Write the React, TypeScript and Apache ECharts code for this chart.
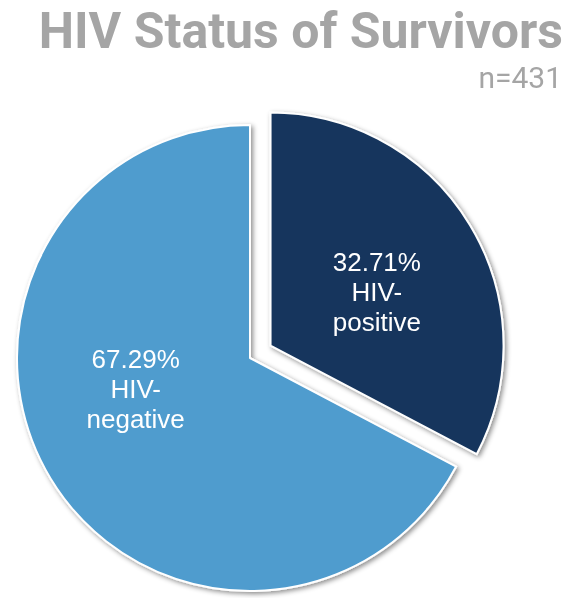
import { useEffect, useRef } from 'react';
import * as echarts from 'echarts';

const categories = ['HIV-positive', 'HIV-negative'];
const counts = [141, 290];
const colors = ['#17365D', '#4F9CCE'];
const titleText = 'HIV Status of Survivors';
const subtitleText = 'n=431';

export default function App() {
  const ref = useRef<HTMLDivElement>(null);
  useEffect(() => {
    const chart = echarts.init(ref.current!, null, { renderer: 'svg' });
    chart.setOption({
      animation: false,
      title: [
        {
          text: titleText,
          right: 6,
          top: 1,
          textStyle: { fontFamily: 'Roboto', fontWeight: 'bold', fontSize: 50, color: '#A5A5A5' },
        },
        {
          text: subtitleText,
          right: 7,
          top: 57,
          textStyle: { fontFamily: 'Roboto', fontWeight: 'normal', fontSize: 30, color: '#A5A5A5' },
        },
      ],
      series: [
        {
          type: 'pie',
          center: [250, 358],
          radius: 233,
          startAngle: 90,
          clockwise: true,
          selectedMode: 'single',
          selectedOffset: 24,
          emphasis: { disabled: true },
          itemStyle: {
            borderColor: '#ffffff',
            borderWidth: 2,
            shadowBlur: 5,
            shadowColor: 'rgba(0,0,0,0.45)',
            shadowOffsetX: 2,
            shadowOffsetY: 2,
          },
          label: {
            position: 'inside',
            color: '#ffffff',
            fontSize: 26,
            lineHeight: 30,
            fontFamily: 'Liberation Sans, Arial, sans-serif',
            formatter: (p: any) => `${p.percent.toFixed(2)}%\n${String(p.name).replace('-', '-\n')}`,
          },
          labelLine: { show: false },
          labelLayout: (p: any) => (p.dataIndex === 1 ? { dx: -12, dy: -31 } : { dx: 4, dy: 8 }),
          data: categories.map((c, i) => ({
            name: c,
            value: counts[i],
            selected: i === 0,
            itemStyle: { color: colors[i] },
          })),
        },
      ],
    });
    return () => chart.dispose();
  }, []);
  return <div ref={ref} style={{ position: 'fixed', left: 0, top: 0, width: 574, height: 598 }} />;
}
